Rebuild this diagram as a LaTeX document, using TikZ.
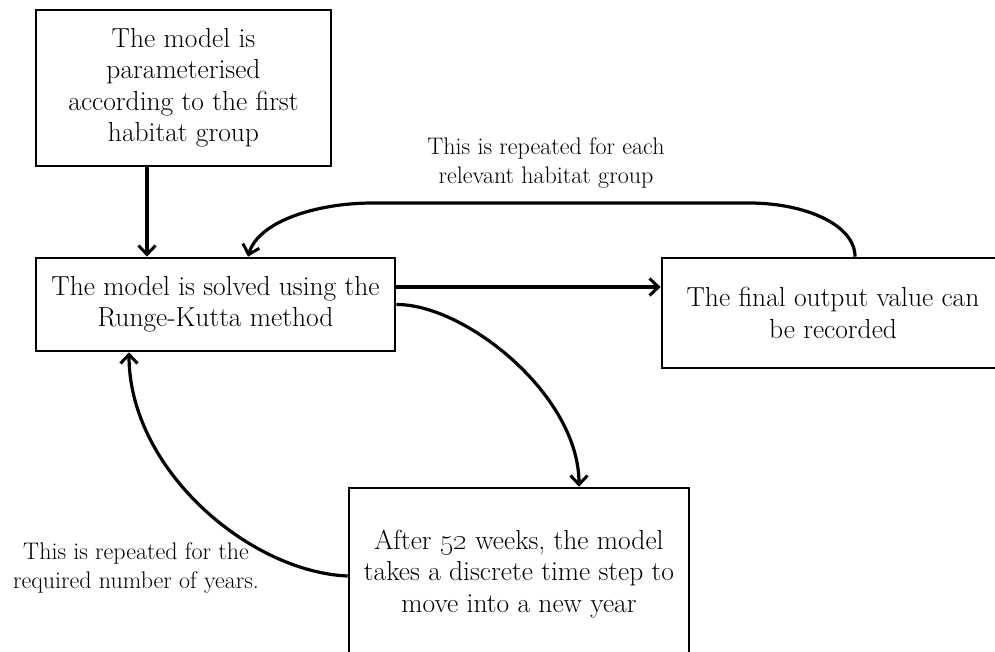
\documentclass[tikz,border=0pt]{standalone}
\usetikzlibrary{arrows.meta}
\begin{document}
\begin{tikzpicture}[x=1pt,y=-1pt,
  box/.style={draw=black, line width=2.6pt, align=center, inner sep=0pt,
    font=\fontsize{27.5}{31.5}\selectfont},
  note/.style={align=center, inner sep=0pt, font=\fontsize{24}{28.5}\selectfont},
  arr/.style={line width=3.2pt, -{Straight Barb[length=9pt,width=17pt,line width=3pt]}}]
\clip (0,0) rectangle (995,652);
\fill[white] (0,0) rectangle (995,652);

% process boxes
\node[box, minimum width=295pt, minimum height=156pt] (param) at (183.5,88)
  {The model is\\parameterised\\according to the first\\habitat group};
\node[box, minimum width=359pt, minimum height=93pt] (solve) at (215.5,304.5)
  {The model is solved using the\\Runge-Kutta method};
\node[box, minimum width=342pt, minimum height=110pt] (output) at (833,313)
  {The final output value can\\be recorded};
\node[box, minimum width=340pt, minimum height=172pt] (year) at (519,574)
  {After \oldstylenums{52} weeks, the model\\takes a discrete time step to\\move into a new year};

% annotations on the loops
\node[note] (habnote) at (546,163) {This is repeated for each\\relevant habitat group};
\node[note] (yrnote) at (136,568) {This is repeated for the\\required number of years.};

% connectors
\draw[arr] ([xshift=-36.5pt]param.south) -- ([xshift=-36.5pt]param.south |- solve.north);
\draw[arr] ([yshift=17.5pt]solve.east) -- ([yshift=17.5pt]solve.east -| output.west);
\draw[arr] ([xshift=22pt]output.north) .. controls ++(0,-32) and (805,203) .. (749,203)
  -- (373,203) .. controls (315,203) and (258,222) .. ([xshift=32.5pt]solve.north);
\draw[arr] (solve.east) .. controls (465,304) and (579,395) .. ([xshift=60pt]year.north);
\draw[arr] ([yshift=-2pt]year.west) .. controls (250,572) and (129,470) .. ([xshift=-86.5pt]solve.south);
\end{tikzpicture}
\end{document}
